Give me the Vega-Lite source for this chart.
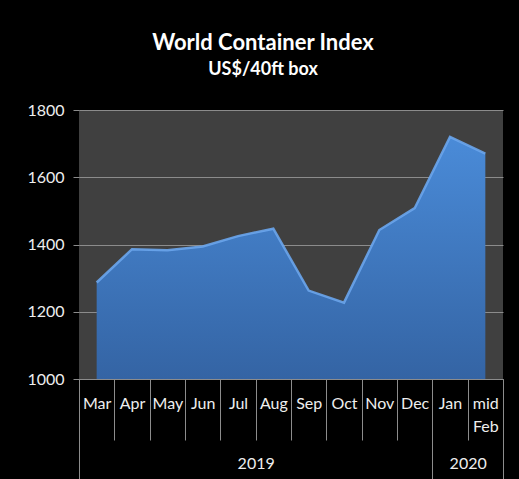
{
  "$schema": "https://vega.github.io/schema/vega-lite/v6.json",
  "autosize": "none",
  "width": 424,
  "height": 269,
  "padding": {"left": 79, "top": 110, "right": 16, "bottom": 100},
  "background": "#000000",
  "title": {
    "text": "World Container Index",
    "subtitle": "US$/40ft box",
    "anchor": "middle",
    "dx": -28,
    "offset": 22,
    "font": "Lato",
    "fontSize": 22,
    "fontWeight": "bold",
    "color": "#ffffff",
    "subtitleFont": "Lato",
    "subtitleFontSize": 18,
    "subtitleFontWeight": "bold",
    "subtitleColor": "#ffffff",
    "subtitlePadding": 6
  },
  "config": {
    "view": {"fill": "#404040", "stroke": null},
    "axis": {"labelFont": "Lato", "labelColor": "#eeeeee", "labelFontSize": 16}
  },
  "data": {
    "values": [
      {"n": 1, "month": "Mar", "year": 2019, "index": 1287},
      {"n": 2, "month": "Apr", "year": 2019, "index": 1386},
      {"n": 3, "month": "May", "year": 2019, "index": 1383},
      {"n": 4, "month": "Jun", "year": 2019, "index": 1394},
      {"n": 5, "month": "Jul", "year": 2019, "index": 1425},
      {"n": 6, "month": "Aug", "year": 2019, "index": 1447},
      {"n": 7, "month": "Sep", "year": 2019, "index": 1263},
      {"n": 8, "month": "Oct", "year": 2019, "index": 1227},
      {"n": 9, "month": "Nov", "year": 2019, "index": 1443},
      {"n": 10, "month": "Dec", "year": 2019, "index": 1508},
      {"n": 11, "month": "Jan", "year": 2020, "index": 1720},
      {"n": 12, "month": "mid Feb", "year": 2020, "index": 1670}
    ]
  },
  "resolve": {"axis": {"x": "independent", "y": "independent"}},
  "layer": [
    {
      "mark": {
        "type": "area",
        "clip": true,
        "color": {
          "x1": 0, "y1": 0, "x2": 0, "y2": 1,
          "gradient": "linear",
          "stops": [
            {"offset": 0, "color": "#4a8bd8"},
            {"offset": 1, "color": "#3464a4"}
          ]
        }
      },
      "encoding": {
        "x": {
          "field": "n", "type": "quantitative",
          "scale": {"domain": [0.5, 12.5], "nice": false, "zero": false},
          "axis": {
            "orient": "bottom", "title": null, "labels": false, "grid": false,
            "values": [0.5, 1.5, 2.5, 3.5, 4.5, 5.5, 6.5, 7.5, 8.5, 9.5, 10.5, 11.5, 12.5],
            "tickSize": 61, "tickColor": "#8c8c8c", "domainColor": "#8c8c8c"
          }
        },
        "y": {
          "field": "index", "type": "quantitative", "stack": null,
          "scale": {"domain": [1000, 1800], "nice": false, "zero": false},
          "axis": {
            "title": null, "values": [1000, 1200, 1400, 1600, 1800], "format": "d",
            "grid": true, "gridColor": "#8c8c8c", "gridWidth": 1,
            "domain": false, "tickSize": 6, "tickColor": "#8c8c8c",
            "labelPadding": 9, "labelFontSize": 16
          }
        },
        "y2": {"datum": 1000}
      }
    },
    {
      "mark": {"type": "line", "color": "#6aa5ec", "strokeWidth": 2.5, "opacity": 0.9, "strokeJoin": "miter"},
      "encoding": {
        "x": {"field": "n", "type": "quantitative", "axis": null},
        "y": {"field": "index", "type": "quantitative", "axis": null}
      }
    },
    {
      "mark": {"type": "point", "opacity": 0},
      "encoding": {
        "x": {
          "field": "n", "type": "quantitative",
          "axis": {
            "orient": "bottom", "title": null, "grid": false, "domain": false, "ticks": false,
            "values": [1, 2, 3, 4, 5, 6, 7, 8, 9, 10, 11, 12],
            "labelExpr": "datum.value == 12 ? ['mid', 'Feb'] : ['', 'Mar', 'Apr', 'May', 'Jun', 'Jul', 'Aug', 'Sep', 'Oct', 'Nov', 'Dec', 'Jan'][datum.value]",
            "labelBaseline": "top", "labelPadding": 16, "labelLineHeight": 23,
            "labelOverlap": false, "labelFlush": false
          }
        },
        "y": {"field": "index", "type": "quantitative", "axis": null}
      }
    },
    {
      "mark": {"type": "point", "opacity": 0},
      "encoding": {
        "x": {
          "field": "n", "type": "quantitative",
          "axis": {
            "orient": "bottom", "title": null, "grid": false, "domain": false, "labels": false,
            "values": [0.5, 10.5, 12.5], "tickSize": 105, "tickColor": "#8c8c8c"
          }
        },
        "y": {"field": "index", "type": "quantitative", "axis": null}
      }
    },
    {
      "mark": {"type": "point", "opacity": 0},
      "encoding": {
        "x": {
          "field": "n", "type": "quantitative",
          "axis": {
            "orient": "bottom", "title": null, "grid": false, "domain": false, "ticks": false,
            "values": [5.5, 11.5],
            "labelExpr": "datum.value < 11 ? '2019' : '2020'",
            "labelBaseline": "top", "labelPadding": 76,
            "labelOverlap": false, "labelFlush": false
          }
        },
        "y": {"field": "index", "type": "quantitative", "axis": null}
      }
    }
  ]
}
